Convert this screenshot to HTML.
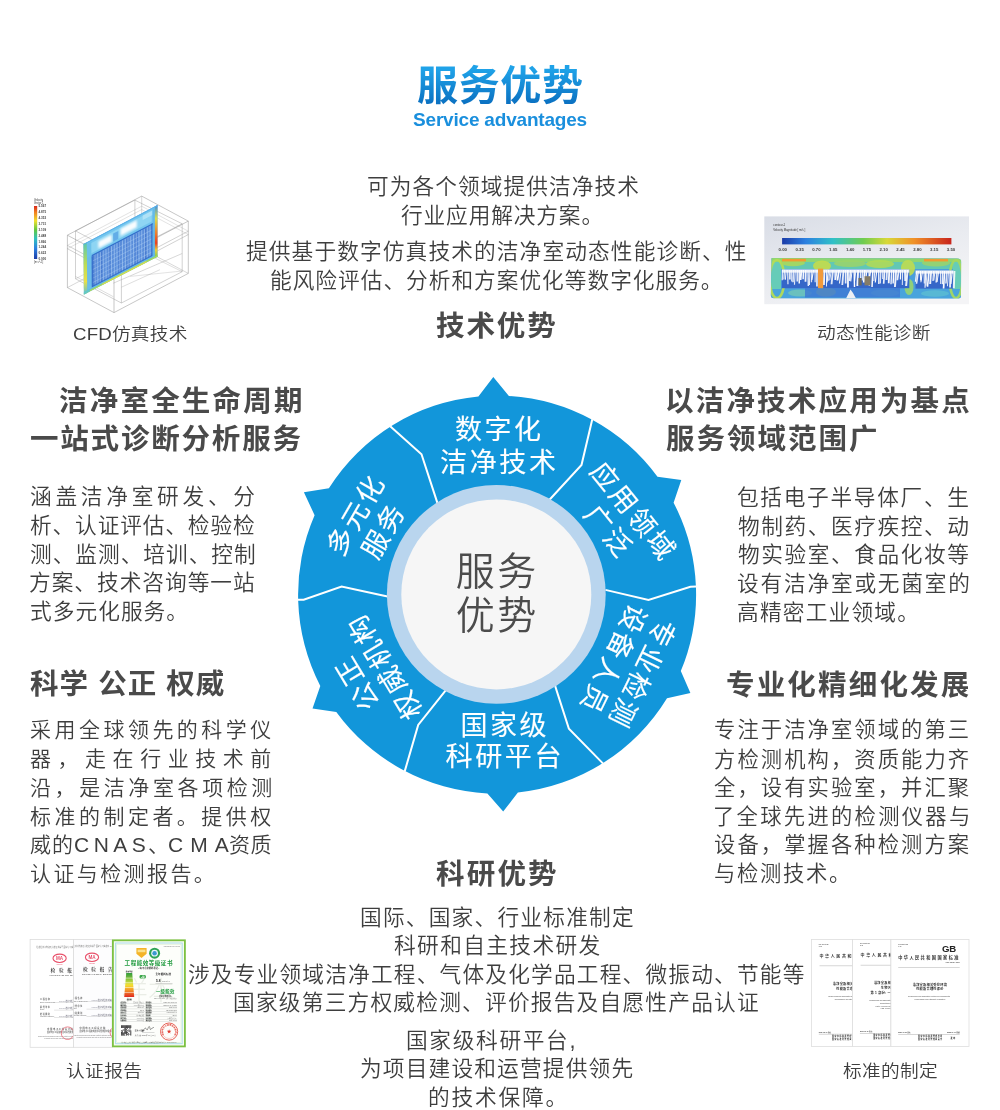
<!DOCTYPE html>
<html lang="zh-CN">
<head>
<meta charset="utf-8">
<title>服务优势 Service advantages</title>
<style>
html,body{margin:0;padding:0;background:#fff;overflow:hidden;}
body{width:1000px;height:1110px;position:relative;overflow:hidden;font-family:"Liberation Sans","Noto Sans CJK SC",sans-serif;color:#3e3e3e;}
.l{position:absolute;white-space:nowrap;margin:0;will-change:transform;}
.b{font-size:21.7px;font-weight:350;line-height:30px;height:30px;}
.h{font-size:28.5px;font-weight:700;line-height:40px;height:40px;color:#4a4a4a;}
.cap{font-size:17px;font-weight:350;line-height:24px;height:24px;color:#3e3e3e;transform:scaleX(1.1);transform-origin:0 50%;}
.title{position:absolute;left:0;width:1000px;top:56px;height:60px;line-height:60px;text-align:center;font-size:41px;font-weight:700;letter-spacing:0.7px;text-indent:0.7px;
  background:linear-gradient(180deg,#1fa2e8 22%,#0a6fc0 82%);-webkit-background-clip:text;background-clip:text;color:transparent;-webkit-text-fill-color:transparent;}
.sub{position:absolute;left:0;width:1000px;top:108.3px;height:24px;line-height:24px;text-align:center;font-size:19px;font-weight:700;letter-spacing:-0.2px;color:#1a8fdd;}
.wheel,.imgs{position:absolute;left:0;top:0;will-change:transform;}
.title,.sub{will-change:transform;}
.wheel text{font-family:"Liberation Sans","Noto Sans CJK SC",sans-serif;}
</style>
</head>
<body>
<svg class="imgs" width="1000" height="1110" viewBox="0 0 1000 1110" font-family="'Liberation Sans','Noto Sans CJK SC',sans-serif">
<defs>
<linearGradient id="jetv" x1="0" y1="0" x2="0" y2="1">
 <stop offset="0" stop-color="#d8281c"/><stop offset="0.12" stop-color="#f08020"/><stop offset="0.28" stop-color="#f0e030"/>
 <stop offset="0.45" stop-color="#60c840"/><stop offset="0.62" stop-color="#30c0c0"/><stop offset="0.8" stop-color="#2c80e0"/><stop offset="1" stop-color="#1c3ca8"/>
</linearGradient>
<linearGradient id="jeth" x1="0" y1="0" x2="1" y2="0">
 <stop offset="0" stop-color="#1c3ca8"/><stop offset="0.14" stop-color="#2c80e0"/><stop offset="0.3" stop-color="#30c0c8"/>
 <stop offset="0.48" stop-color="#70cc50"/><stop offset="0.62" stop-color="#d8d838"/><stop offset="0.78" stop-color="#f09028"/><stop offset="1" stop-color="#c8241c"/>
</linearGradient>
<linearGradient id="bgflow" x1="0" y1="0" x2="0.6" y2="1">
 <stop offset="0" stop-color="#d9dde6"/><stop offset="0.55" stop-color="#e9ebf0"/><stop offset="1" stop-color="#f4f4f6"/>
</linearGradient>
<linearGradient id="plane" x1="0" y1="0" x2="0" y2="1">
 <stop offset="0" stop-color="#8fd0ee"/><stop offset="0.3" stop-color="#79bfe8"/><stop offset="0.36" stop-color="#3d78cc"/><stop offset="1" stop-color="#4a7fd0"/>
</linearGradient>
<linearGradient id="rstrip" x1="0" y1="0" x2="0" y2="1">
 <stop offset="0" stop-color="#3c8ce0"/><stop offset="0.25" stop-color="#d8dc50"/><stop offset="0.55" stop-color="#f07828"/><stop offset="0.72" stop-color="#e84020"/><stop offset="0.85" stop-color="#e8d040"/><stop offset="1" stop-color="#70c858"/>
</linearGradient>
<linearGradient id="lstrip" x1="0" y1="0" x2="0" y2="1">
 <stop offset="0" stop-color="#58c8b0"/><stop offset="0.4" stop-color="#b8dc58"/><stop offset="0.75" stop-color="#e8e048"/><stop offset="1" stop-color="#58c0d8"/>
</linearGradient>
<linearGradient id="pyr" x1="0" y1="0" x2="0" y2="1">
 <stop offset="0" stop-color="#2e9a3c"/><stop offset="0.3" stop-color="#9ccc3c"/><stop offset="0.5" stop-color="#f4e030"/><stop offset="0.7" stop-color="#f49a28"/><stop offset="1" stop-color="#e02a20"/>
</linearGradient>
<linearGradient id="flowbg" x1="0" y1="0" x2="0" y2="1">
 <stop offset="0" stop-color="#7ccf8c"/><stop offset="0.2" stop-color="#58c4c8"/><stop offset="0.5" stop-color="#3f86d8"/><stop offset="0.8" stop-color="#3c8cd8"/><stop offset="1" stop-color="#58c0c0"/>
</linearGradient>
</defs>
<g id="cfd">
<text x="34" y="201.2" font-size="2.6" fill="#333">Velocity</text>
<text x="34" y="203.8" font-size="2.6" fill="#333">Vector 1</text>
<rect x="34" y="206" width="3.2" height="53" fill="url(#jetv)"/>
<text x="38.6" y="207.4" font-size="3" font-weight="700" fill="#444">5.567</text>
<text x="38.6" y="213.2" font-size="3" font-weight="700" fill="#444">4.875</text>
<text x="38.6" y="219.1" font-size="3" font-weight="700" fill="#444">4.353</text>
<text x="38.6" y="224.9" font-size="3" font-weight="700" fill="#444">3.731</text>
<text x="38.6" y="230.8" font-size="3" font-weight="700" fill="#444">3.109</text>
<text x="38.6" y="236.6" font-size="3" font-weight="700" fill="#444">2.488</text>
<text x="38.6" y="242.5" font-size="3" font-weight="700" fill="#444">1.866</text>
<text x="38.6" y="248.3" font-size="3" font-weight="700" fill="#444">1.244</text>
<text x="38.6" y="254.2" font-size="3" font-weight="700" fill="#444">0.622</text>
<text x="38.6" y="260.0" font-size="3" font-weight="700" fill="#444">0.000</text>
<text x="34" y="263" font-size="2.6" fill="#333">[m s^-1]</text>
<polyline points="67.4,235.2 141.7,196.1 188.3,221.1 114.0,260.2 67.4,235.2" fill="none" stroke="#8f8f8f" stroke-width="0.5" opacity="1"/>
<polyline points="67.4,287.6 114.0,312.6 188.3,273.4" fill="none" stroke="#8f8f8f" stroke-width="0.5" opacity="1"/>
<polyline points="67.4,287.6 141.7,248.5 188.3,273.4" fill="none" stroke="#8f8f8f" stroke-width="0.5" opacity="0.7"/>
<polyline points="67.4,235.2 67.4,287.6" fill="none" stroke="#8f8f8f" stroke-width="0.5" opacity="1"/>
<polyline points="141.7,196.1 141.7,248.5" fill="none" stroke="#8f8f8f" stroke-width="0.5" opacity="0.7"/>
<polyline points="188.3,221.1 188.3,273.4" fill="none" stroke="#8f8f8f" stroke-width="0.5" opacity="1"/>
<polyline points="114.0,260.2 114.0,312.6" fill="none" stroke="#8f8f8f" stroke-width="0.5" opacity="1"/>
<polyline points="75.5,230.9 134.9,200.1 182.2,223.8 121.4,255.1 75.5,230.9" fill="none" stroke="#8f8f8f" stroke-width="0.5" opacity="0.8"/>
<polyline points="75.5,278.8 121.4,303.0 182.2,271.7" fill="none" stroke="#8f8f8f" stroke-width="0.5" opacity="0.8"/>
<polyline points="75.5,278.8 134.9,248.1 182.2,271.7" fill="none" stroke="#8f8f8f" stroke-width="0.5" opacity="0.6"/>
<polyline points="75.5,230.9 75.5,278.8" fill="none" stroke="#8f8f8f" stroke-width="0.5" opacity="0.8"/>
<polyline points="134.9,200.1 134.9,248.1" fill="none" stroke="#8f8f8f" stroke-width="0.5" opacity="0.8"/>
<polyline points="182.2,223.8 182.2,271.7" fill="none" stroke="#8f8f8f" stroke-width="0.5" opacity="0.8"/>
<polyline points="121.4,255.1 121.4,303.0" fill="none" stroke="#8f8f8f" stroke-width="0.5" opacity="0.8"/>
<polyline points="67.4,245.4 114.0,270.3" fill="none" stroke="#8f8f8f" stroke-width="0.5" opacity="0.8"/>
<polyline points="114.0,270.3 188.3,231.2" fill="none" stroke="#8f8f8f" stroke-width="0.5" opacity="0.8"/>
<polyline points="67.4,245.4 141.7,206.2 188.3,231.2" fill="none" stroke="#8f8f8f" stroke-width="0.5" opacity="0.5"/>
<polyline points="67.4,248.7 114.0,273.7" fill="none" stroke="#8f8f8f" stroke-width="0.5" opacity="0.8"/>
<polyline points="114.0,273.7 188.3,234.6" fill="none" stroke="#8f8f8f" stroke-width="0.5" opacity="0.8"/>
<polyline points="67.4,248.7 141.7,209.6 188.3,234.6" fill="none" stroke="#8f8f8f" stroke-width="0.5" opacity="0.5"/>
<polyline points="113.3,283.2 182.2,253.5" fill="none" stroke="#8f8f8f" stroke-width="0.5" opacity="0.7"/>
<polyline points="121.4,287.2 159.9,269.7" fill="none" stroke="#8f8f8f" stroke-width="0.5" opacity="0.6"/>
<polyline points="75.5,276.4 113.3,296.7" fill="none" stroke="#8f8f8f" stroke-width="0.5" opacity="0.6"/>
<polyline points="130.2,276.4 182.2,271.0" fill="none" stroke="#8f8f8f" stroke-width="0.5" opacity="0.5"/>
<filter id="bl1" x="-30%" y="-30%" width="160%" height="160%"><feGaussianBlur stdDeviation="0.9"/></filter>
<filter id="bl2" x="-30%" y="-30%" width="160%" height="160%"><feGaussianBlur stdDeviation="0.45"/></filter>
<polygon points="83.5,244.1 157.5,205.1 157.5,256.7 83.9,294.6" fill="#66a6e4" opacity="1" />
<polygon points="85.0,243.4 156.0,205.9 156.0,221.9 85.1,259.0" fill="#74c6ee" opacity="1" />
<polygon points="90.9,243.3 151.6,211.3 151.6,221.6 91.0,253.4" fill="#9adcf6" opacity="0.7" filter="url(#bl2)"/>
<polygon points="98.3,241.4 111.6,234.4 111.7,241.5 98.4,248.5" fill="#ffffff" opacity="0.95" filter="url(#bl1)"/>
<polygon points="120.5,228.7 136.8,220.1 136.8,227.3 120.5,235.9" fill="#ffffff" opacity="0.95" filter="url(#bl1)"/>
<polygon points="113.1,233.6 118.3,230.9 118.3,239.1 113.1,241.8" fill="#3f8ede" opacity="0.55" filter="url(#bl2)"/>
<polygon points="142.7,215.5 152.3,210.4 152.3,215.1 142.7,220.1" fill="#c8ecfa" opacity="0.6" filter="url(#bl2)"/>
<polygon points="91.7,255.0 153.0,222.9 153.0,224.5 91.7,256.5" fill="#2f68c8" opacity="0.9" />
<polygon points="91.7,256.5 152.3,224.8 152.3,255.7 92.0,286.9" fill="#5a8edb" opacity="1" />
<polygon points="93.2,255.8 95.4,254.6 95.6,285.0 93.4,286.2" fill="#2f62c4" opacity="0.4" />
<polygon points="99.9,252.3 102.1,251.1 102.3,281.6 100.1,282.7" fill="#2f62c4" opacity="0.4" />
<polygon points="108.0,248.0 110.2,246.9 110.4,277.4 108.2,278.6" fill="#2f62c4" opacity="0.4" />
<polygon points="118.3,242.6 120.6,241.5 120.7,272.1 118.5,273.2" fill="#2f62c4" opacity="0.4" />
<polygon points="126.5,238.4 128.7,237.2 128.8,267.9 126.6,269.0" fill="#2f62c4" opacity="0.4" />
<polygon points="135.3,233.7 137.5,232.6 137.6,263.3 135.4,264.5" fill="#2f62c4" opacity="0.4" />
<polygon points="144.2,229.1 146.4,227.9 146.4,258.8 144.2,259.9" fill="#2f62c4" opacity="0.4" />
<polygon points="94.5,255.1 95.4,254.6 95.6,285.0 94.7,285.5" fill="#b4d4f6" opacity="0.6" />
<polygon points="97.3,253.7 98.1,253.2 98.3,283.6 97.5,284.1" fill="#b4d4f6" opacity="0.6" />
<polygon points="100.0,252.2 100.9,251.8 101.1,282.2 100.2,282.7" fill="#b4d4f6" opacity="0.6" />
<polygon points="102.8,250.8 103.6,250.3 103.8,280.8 102.9,281.2" fill="#b4d4f6" opacity="0.6" />
<polygon points="105.5,249.3 106.4,248.9 106.6,279.4 105.7,279.8" fill="#b4d4f6" opacity="0.6" />
<polygon points="108.3,247.9 109.2,247.4 109.3,278.0 108.4,278.4" fill="#b4d4f6" opacity="0.6" />
<polygon points="111.0,246.5 111.9,246.0 112.1,276.5 111.2,277.0" fill="#b4d4f6" opacity="0.6" />
<polygon points="113.8,245.0 114.7,244.6 114.8,275.1 113.9,275.6" fill="#b4d4f6" opacity="0.6" />
<polygon points="116.5,243.6 117.4,243.1 117.5,273.7 116.7,274.2" fill="#b4d4f6" opacity="0.6" />
<polygon points="119.3,242.1 120.2,241.7 120.3,272.3 119.4,272.7" fill="#b4d4f6" opacity="0.6" />
<polygon points="122.0,240.7 122.9,240.2 123.0,270.9 122.1,271.3" fill="#b4d4f6" opacity="0.6" />
<polygon points="124.8,239.3 125.7,238.8 125.8,269.5 124.9,269.9" fill="#b4d4f6" opacity="0.6" />
<polygon points="127.5,237.8 128.4,237.4 128.5,268.0 127.6,268.5" fill="#b4d4f6" opacity="0.6" />
<polygon points="130.3,236.4 131.2,235.9 131.3,266.6 130.4,267.1" fill="#b4d4f6" opacity="0.6" />
<polygon points="133.0,234.9 133.9,234.5 134.0,265.2 133.1,265.7" fill="#b4d4f6" opacity="0.6" />
<polygon points="135.8,233.5 136.7,233.0 136.7,263.8 135.9,264.2" fill="#b4d4f6" opacity="0.6" />
<polygon points="138.5,232.1 139.4,231.6 139.5,262.4 138.6,262.8" fill="#b4d4f6" opacity="0.6" />
<polygon points="141.3,230.6 142.2,230.1 142.2,261.0 141.3,261.4" fill="#b4d4f6" opacity="0.6" />
<polygon points="144.0,229.2 144.9,228.7 145.0,259.5 144.1,260.0" fill="#b4d4f6" opacity="0.6" />
<polygon points="146.8,227.7 147.7,227.3 147.7,258.1 146.8,258.6" fill="#b4d4f6" opacity="0.6" />
<polygon points="149.6,226.3 150.4,225.8 150.5,256.7 149.6,257.2" fill="#b4d4f6" opacity="0.6" />
<polygon points="91.8,260.9 152.3,229.3 152.3,230.2 91.8,261.8" fill="#b4d4f6" opacity="0.4" />
<polygon points="91.8,265.2 152.3,233.7 152.3,234.6 91.8,266.1" fill="#b4d4f6" opacity="0.4" />
<polygon points="91.8,269.6 152.3,238.1 152.3,239.0 91.8,270.5" fill="#b4d4f6" opacity="0.4" />
<polygon points="91.9,273.9 152.3,242.5 152.3,243.4 91.9,274.8" fill="#b4d4f6" opacity="0.4" />
<polygon points="91.9,278.2 152.3,246.9 152.3,247.8 91.9,279.1" fill="#b4d4f6" opacity="0.4" />
<polygon points="91.9,282.6 152.3,251.3 152.3,252.3 91.9,283.5" fill="#b4d4f6" opacity="0.4" />
<polygon points="92.0,285.9 152.3,254.7 152.3,256.3 92.0,287.4" fill="#2f68c8" opacity="0.8" />
<polygon points="91.4,256.7 92.9,256.0 93.1,286.3 91.6,287.1" fill="#2f68c8" opacity="0.8" />
<polygon points="151.2,223.9 152.7,223.1 152.7,255.6 151.2,256.3" fill="#2f68c8" opacity="0.7" />
<polygon points="86.8,243.9 91.3,241.6 91.6,289.1 87.2,291.4" fill="#6cc0ea" opacity="0.9" />
<polygon points="152.7,209.2 154.9,208.0 154.9,256.5 152.7,257.6" fill="#62b8e8" opacity="0.9" />
<polygon points="86.1,290.5 155.3,254.7 155.3,256.0 86.1,291.7" fill="#62c0e4" opacity="0.9" />
<polygon points="83.5,244.1 86.8,242.4 87.2,292.9 83.9,294.6" fill="url(#lstrip)" opacity="1" />
<polygon points="154.9,206.5 157.5,205.1 157.5,256.7 154.9,258.0" fill="url(#rstrip)" opacity="1" />
<polygon points="83.9,292.9 157.5,254.9 157.5,256.7 83.9,294.6" fill="#a4dc5c" opacity="1" />
<polygon points="102.3,283.5 146.4,260.7 146.4,262.4 102.3,285.1" fill="#dce050" opacity="0.8" />
<polygon points="83.9,292.1 89.8,289.1 89.8,291.6 83.9,294.6" fill="#58c4d8" opacity="0.8" />
<polygon points="83.5,244.1 157.5,205.1 157.5,206.2 83.5,245.1" fill="#58b0e8" opacity="0.9" />
</g>
<g id="flow">
<rect x="764.3" y="216.4" width="204.7" height="87.8" fill="url(#bgflow)"/>
<text x="773.3" y="226" font-size="2.8" fill="#333">contour-1</text>
<text x="773.3" y="230.6" font-size="2.8" fill="#333">Velocity Magnitude [ m/s ]</text>
<rect x="782.1" y="238" width="169.3" height="6.4" fill="url(#jeth)"/>
<text x="782.8" y="250.8" font-size="4.3" font-weight="700" fill="#3a3a3a" text-anchor="middle">0.00</text>
<text x="799.6" y="250.8" font-size="4.3" font-weight="700" fill="#3a3a3a" text-anchor="middle">0.35</text>
<text x="816.4" y="250.8" font-size="4.3" font-weight="700" fill="#3a3a3a" text-anchor="middle">0.70</text>
<text x="833.3" y="250.8" font-size="4.3" font-weight="700" fill="#3a3a3a" text-anchor="middle">1.05</text>
<text x="850.1" y="250.8" font-size="4.3" font-weight="700" fill="#3a3a3a" text-anchor="middle">1.40</text>
<text x="866.9" y="250.8" font-size="4.3" font-weight="700" fill="#3a3a3a" text-anchor="middle">1.75</text>
<text x="883.7" y="250.8" font-size="4.3" font-weight="700" fill="#3a3a3a" text-anchor="middle">2.10</text>
<text x="900.5" y="250.8" font-size="4.3" font-weight="700" fill="#3a3a3a" text-anchor="middle">2.45</text>
<text x="917.4" y="250.8" font-size="4.3" font-weight="700" fill="#3a3a3a" text-anchor="middle">2.80</text>
<text x="934.2" y="250.8" font-size="4.3" font-weight="700" fill="#3a3a3a" text-anchor="middle">3.15</text>
<text x="951.0" y="250.8" font-size="4.3" font-weight="700" fill="#3a3a3a" text-anchor="middle">3.50</text>
<filter id="bl3" x="-5%" y="-10%" width="110%" height="120%"><feGaussianBlur stdDeviation="0.55"/></filter>
<filter id="bl4" x="-20%" y="-20%" width="140%" height="140%"><feGaussianBlur stdDeviation="1.6"/></filter>
<clipPath id="fclip"><path d="M771.5,259.5 Q770.5,258 773,258 L957,258.4 Q961.5,258.4 961.2,262 L961,296 Q961,298.6 958,298.4 L774,298.2 Q770.8,298.2 770.8,295 Z"/></clipPath>
<g clip-path="url(#fclip)">
<rect x="770.8" y="258.0" width="190.4" height="40.4" fill="#4a9edc"/>
<g filter="url(#bl3)">
<rect x="770" y="257" width="192" height="12" fill="#62c8b4"/>
<rect x="770" y="257" width="192" height="5" fill="#8ed672"/>
<rect x="770" y="262" width="11" height="38" fill="#66ccb8"/>
<rect x="953" y="262" width="9" height="38" fill="#66ccb8"/>
<rect x="770" y="289" width="192" height="10" fill="#4aa4dc"/>
<ellipse cx="777.0" cy="279.0" rx="7.5" ry="19.0" fill="none" stroke="#b4dc54" stroke-width="2.6" opacity="0.95"/>
<ellipse cx="956.0" cy="279.0" rx="6.5" ry="19.0" fill="none" stroke="#a4d860" stroke-width="2.6" opacity="0.95"/>
<ellipse cx="793.0" cy="263.0" rx="12.0" ry="3.2" fill="#a8d85c" opacity="0.9"/>
<ellipse cx="822.0" cy="266.0" rx="9.0" ry="5.5" fill="#c4dc4c" opacity="0.9"/>
<ellipse cx="850.0" cy="263.5" rx="16.0" ry="3.5" fill="#9cd468" opacity="0.85"/>
<ellipse cx="880.0" cy="264.0" rx="14.0" ry="4.0" fill="#b4da54" opacity="0.85"/>
<ellipse cx="908.0" cy="268.0" rx="7.0" ry="8.0" fill="#c0dc50" opacity="0.9"/>
<ellipse cx="936.0" cy="263.0" rx="14.0" ry="3.4" fill="#9cd468" opacity="0.85"/>
<ellipse cx="909.0" cy="287.0" rx="4.5" ry="8.0" fill="#9cd868" opacity="0.85"/>
<ellipse cx="826.0" cy="292.0" rx="10.0" ry="4.5" fill="#c4dc50" opacity="0.8"/>
<ellipse cx="800.0" cy="293.0" rx="12.0" ry="3.5" fill="#78ccb0" opacity="0.7"/>
<ellipse cx="885.0" cy="293.0" rx="14.0" ry="3.5" fill="#70c8c0" opacity="0.75"/>
<ellipse cx="935.0" cy="293.5" rx="14.0" ry="3.2" fill="#60c0d0" opacity="0.7"/>
<rect x="782" y="258.8" width="24" height="2.6" fill="#f09a30"/>
<rect x="924" y="258.8" width="24" height="2.6" fill="#f09a30"/>
<rect x="781.8" y="269.6" width="127.5" height="18.6" fill="#3466c8"/>
<rect x="915.5" y="270.6" width="38" height="18" fill="#3466c8"/>
<rect x="805" y="288" width="95" height="9.5" fill="#3f7ad4" opacity="0.85"/>
</g>
<g filter="url(#bl2)">
<polygon points="782.0,270.0 783.3,270.0 782.9,280.3 781.6,280.3" fill="#ffffff" opacity="0.81"/>
<polygon points="783.9,270.0 785.2,270.0 784.5,279.5 783.2,279.5" fill="#ffffff" opacity="0.81"/>
<polygon points="785.7,270.0 786.7,270.0 785.9,279.8 784.9,279.8" fill="#ffffff" opacity="0.97"/>
<polygon points="787.1,270.0 788.2,270.0 788.5,284.3 787.4,284.3" fill="#ffffff" opacity="0.92"/>
<polygon points="788.8,270.0 790.7,270.0 790.8,279.4 788.9,279.4" fill="#ffffff" opacity="0.86"/>
<polygon points="791.1,270.0 792.2,270.0 792.2,281.6 791.1,281.6" fill="#ffffff" opacity="0.84"/>
<polygon points="792.8,270.0 794.4,270.0 793.8,282.2 792.2,282.2" fill="#ffffff" opacity="0.81"/>
<polygon points="794.8,270.0 795.9,270.0 795.0,284.8 793.9,284.8" fill="#ffffff" opacity="0.86"/>
<polygon points="796.5,270.0 797.9,270.0 797.9,281.5 796.5,281.5" fill="#ffffff" opacity="0.94"/>
<polygon points="798.4,270.0 799.9,270.0 800.0,283.5 798.5,283.5" fill="#ffffff" opacity="0.95"/>
<polygon points="800.4,270.0 802.4,270.0 801.5,280.0 799.5,280.0" fill="#ffffff" opacity="0.95"/>
<polygon points="802.7,270.0 804.2,270.0 803.9,279.3 802.4,279.3" fill="#ffffff" opacity="0.95"/>
<polygon points="804.8,270.0 806.7,270.0 806.4,281.7 804.6,281.7" fill="#ffffff" opacity="0.92"/>
<polygon points="807.3,270.0 808.7,270.0 809.0,286.1 807.6,286.1" fill="#ffffff" opacity="0.89"/>
<polygon points="809.4,270.0 810.4,270.0 810.0,285.0 809.1,285.0" fill="#ffffff" opacity="1.00"/>
<polygon points="811.2,270.0 812.4,270.0 812.1,282.3 810.9,282.3" fill="#ffffff" opacity="0.80"/>
<polygon points="813.0,270.0 814.1,270.0 812.4,280.0 811.3,280.0" fill="#ffffff" opacity="0.95"/>
<polygon points="814.5,270.0 815.6,270.0 815.7,282.3 814.6,282.3" fill="#ffffff" opacity="0.82"/>
<polygon points="816.2,270.0 817.7,270.0 817.7,286.5 816.2,286.5" fill="#ffffff" opacity="0.97"/>
<polygon points="818.2,270.0 819.5,270.0 819.7,282.0 818.3,282.0" fill="#ffffff" opacity="0.99"/>
<polygon points="819.9,270.0 821.0,270.0 819.7,281.0 818.6,281.0" fill="#ffffff" opacity="0.90"/>
<polygon points="821.7,270.0 822.9,270.0 822.0,279.0 820.8,279.0" fill="#ffffff" opacity="0.87"/>
<polygon points="823.5,270.0 825.4,270.0 824.8,284.9 822.8,284.9" fill="#ffffff" opacity="0.92"/>
<polygon points="826.1,270.0 827.1,270.0 827.0,286.6 826.1,286.6" fill="#ffffff" opacity="0.97"/>
<polygon points="827.9,270.0 829.2,270.0 827.6,282.4 826.3,282.4" fill="#ffffff" opacity="0.93"/>
<polygon points="829.6,270.0 830.5,270.0 829.1,280.8 828.1,280.8" fill="#ffffff" opacity="0.87"/>
<polygon points="830.9,270.0 831.8,270.0 830.2,280.3 829.3,280.3" fill="#ffffff" opacity="0.87"/>
<polygon points="832.1,270.0 833.9,270.0 832.5,284.2 830.6,284.2" fill="#ffffff" opacity="0.85"/>
<polygon points="834.4,270.0 835.7,270.0 835.8,280.0 834.5,280.0" fill="#ffffff" opacity="1.00"/>
<polygon points="836.3,270.0 837.8,270.0 836.2,279.7 834.7,279.7" fill="#ffffff" opacity="0.87"/>
<polygon points="838.2,270.0 840.0,270.0 838.3,280.4 836.5,280.4" fill="#ffffff" opacity="0.99"/>
<polygon points="840.6,270.0 841.7,270.0 840.0,283.6 838.9,283.6" fill="#ffffff" opacity="0.91"/>
<polygon points="842.6,270.0 844.4,270.0 843.2,284.9 841.4,284.9" fill="#ffffff" opacity="0.87"/>
<polygon points="844.8,270.0 846.6,270.0 846.5,283.5 844.8,283.5" fill="#ffffff" opacity="0.87"/>
<polygon points="847.0,270.0 848.8,270.0 848.9,287.4 847.1,287.4" fill="#ffffff" opacity="0.96"/>
<polygon points="849.6,270.0 851.3,270.0 850.7,280.9 848.9,280.9" fill="#ffffff" opacity="0.87"/>
<polygon points="851.6,270.0 852.6,270.0 851.3,281.4 850.4,281.4" fill="#ffffff" opacity="0.94"/>
<polygon points="853.4,270.0 854.8,270.0 855.2,287.0 853.8,287.0" fill="#ffffff" opacity="0.99"/>
<polygon points="855.4,270.0 856.5,270.0 855.1,280.9 854.0,280.9" fill="#ffffff" opacity="0.84"/>
<polygon points="857.2,270.0 859.1,270.0 858.3,286.1 856.4,286.1" fill="#ffffff" opacity="0.93"/>
<polygon points="859.8,270.0 860.8,270.0 861.0,284.6 860.0,284.6" fill="#ffffff" opacity="0.96"/>
<polygon points="861.6,270.0 863.0,270.0 862.9,280.5 861.5,280.5" fill="#ffffff" opacity="0.87"/>
<polygon points="863.8,270.0 865.8,270.0 864.8,282.4 862.9,282.4" fill="#ffffff" opacity="0.99"/>
<polygon points="866.5,270.0 867.6,270.0 866.1,280.1 865.0,280.1" fill="#ffffff" opacity="0.98"/>
<polygon points="868.4,270.0 869.4,270.0 869.8,286.0 868.7,286.0" fill="#ffffff" opacity="0.93"/>
<polygon points="869.9,270.0 871.4,270.0 869.7,280.1 868.2,280.1" fill="#ffffff" opacity="0.99"/>
<polygon points="872.1,270.0 873.6,270.0 872.8,286.9 871.3,286.9" fill="#ffffff" opacity="0.97"/>
<polygon points="874.4,270.0 875.5,270.0 874.4,281.1 873.3,281.1" fill="#ffffff" opacity="0.85"/>
<polygon points="876.2,270.0 877.4,270.0 875.9,282.6 874.7,282.6" fill="#ffffff" opacity="0.98"/>
<polygon points="877.9,270.0 879.3,270.0 879.5,284.0 878.1,284.0" fill="#ffffff" opacity="0.88"/>
<polygon points="880.1,270.0 881.6,270.0 880.9,283.5 879.5,283.5" fill="#ffffff" opacity="0.80"/>
<polygon points="882.2,270.0 883.3,270.0 883.2,279.0 882.1,279.0" fill="#ffffff" opacity="0.83"/>
<polygon points="883.8,270.0 885.5,270.0 884.5,283.7 882.8,283.7" fill="#ffffff" opacity="0.90"/>
<polygon points="886.2,270.0 887.9,270.0 887.4,279.9 885.6,279.9" fill="#ffffff" opacity="0.85"/>
<polygon points="888.4,270.0 890.2,270.0 889.6,283.3 887.8,283.3" fill="#ffffff" opacity="0.95"/>
<polygon points="891.0,270.0 892.4,270.0 891.7,284.2 890.3,284.2" fill="#ffffff" opacity="0.90"/>
<polygon points="893.1,270.0 894.5,270.0 893.8,283.5 892.4,283.5" fill="#ffffff" opacity="0.99"/>
<polygon points="895.2,270.0 897.1,270.0 895.9,287.0 894.0,287.0" fill="#ffffff" opacity="0.91"/>
<polygon points="898.0,270.0 899.8,270.0 898.2,280.2 896.4,280.2" fill="#ffffff" opacity="0.89"/>
<polygon points="900.1,270.0 901.3,270.0 901.0,279.6 899.8,279.6" fill="#ffffff" opacity="0.96"/>
<polygon points="902.1,270.0 903.2,270.0 902.8,285.1 901.8,285.1" fill="#ffffff" opacity="0.83"/>
<polygon points="904.0,270.0 906.0,270.0 906.3,280.9 904.3,280.9" fill="#ffffff" opacity="0.88"/>
<polygon points="906.6,270.0 908.6,270.0 907.1,286.1 905.1,286.1" fill="#ffffff" opacity="0.89"/>
<polygon points="916.0,271.0 917.3,271.0 916.2,281.7 914.9,281.7" fill="#ffffff" opacity="0.94"/>
<polygon points="917.6,271.0 919.1,271.0 917.3,283.7 915.8,283.7" fill="#ffffff" opacity="0.87"/>
<polygon points="919.8,271.0 921.2,271.0 921.6,280.5 920.1,280.5" fill="#ffffff" opacity="0.96"/>
<polygon points="922.1,271.0 923.1,271.0 921.4,282.3 920.4,282.3" fill="#ffffff" opacity="0.96"/>
<polygon points="923.6,271.0 924.6,271.0 924.8,283.6 923.8,283.6" fill="#ffffff" opacity="0.96"/>
<polygon points="925.1,271.0 926.2,271.0 925.6,287.8 924.5,287.8" fill="#ffffff" opacity="0.94"/>
<polygon points="926.5,271.0 927.5,271.0 926.6,285.8 925.6,285.8" fill="#ffffff" opacity="0.81"/>
<polygon points="928.3,271.0 929.9,271.0 928.3,286.8 926.7,286.8" fill="#ffffff" opacity="0.97"/>
<polygon points="930.3,271.0 932.1,271.0 931.1,283.9 929.2,283.9" fill="#ffffff" opacity="0.91"/>
<polygon points="933.0,271.0 934.2,271.0 933.5,281.1 932.3,281.1" fill="#ffffff" opacity="0.85"/>
<polygon points="934.5,271.0 935.6,271.0 934.3,280.4 933.2,280.4" fill="#ffffff" opacity="0.86"/>
<polygon points="936.1,271.0 937.8,271.0 937.1,282.5 935.4,282.5" fill="#ffffff" opacity="0.84"/>
<polygon points="938.3,271.0 939.3,271.0 937.5,282.1 936.6,282.1" fill="#ffffff" opacity="0.95"/>
<polygon points="939.9,271.0 941.0,271.0 941.3,284.0 940.1,284.0" fill="#ffffff" opacity="0.82"/>
<polygon points="941.8,271.0 943.2,271.0 943.2,284.2 941.8,284.2" fill="#ffffff" opacity="0.88"/>
<polygon points="943.8,271.0 945.4,271.0 944.4,288.4 942.7,288.4" fill="#ffffff" opacity="0.97"/>
<polygon points="946.2,271.0 947.8,271.0 946.7,283.4 945.1,283.4" fill="#ffffff" opacity="0.81"/>
<polygon points="948.1,271.0 949.1,271.0 947.9,286.3 946.9,286.3" fill="#ffffff" opacity="0.83"/>
<polygon points="949.5,271.0 951.3,271.0 951.0,287.4 949.1,287.4" fill="#ffffff" opacity="0.86"/>
<polygon points="951.7,271.0 953.0,271.0 951.5,283.9 950.3,283.9" fill="#ffffff" opacity="0.89"/>
<polygon points="953.4,271.0 955.4,271.0 954.8,288.3 952.8,288.3" fill="#ffffff" opacity="0.85"/>
<rect x="781.8" y="269.4" width="127.5" height="3.2" fill="#ffffff" opacity="0.8"/>
<rect x="915.5" y="270.4" width="38" height="3.2" fill="#ffffff" opacity="0.8"/>
<rect x="818" y="268.6" width="5.2" height="19.6" fill="#f29a3a"/>
<rect x="858.5" y="278" width="3.2" height="7.4" fill="#6a6a60"/>
<rect x="864.5" y="276.2" width="6" height="9.2" fill="#857c66"/>
</g>
<polygon points="846,298.6 850.5,289.5 853,293 856,298.6" fill="#edf0f4"/>
</g>
</g>
<g id="certs">
<rect x="30.1" y="939.4" width="43.4" height="107.9" fill="#ffffff" stroke="#dcdcdc" stroke-width="0.8"/>
<clipPath id="c1"><rect x="30.1" y="939.4" width="43.4" height="107.9"/></clipPath>
<g clip-path="url(#c1)">
<text x="36.6" y="948.0" font-size="1.9" font-weight="400" fill="#777" text-anchor="start" letter-spacing="0" >检验检测机构资质认定证书编号 国家认可实验室 CNAS L0000</text>
<ellipse cx="59.6" cy="958.3" rx="6.6" ry="4.2" fill="none" stroke="#e8506a" stroke-width="1.1"/>
<text x="59.6" y="959.9" font-size="4.6" font-weight="700" fill="#e8506a" text-anchor="middle" letter-spacing="0" >MA</text>
<text x="59.6" y="965.3" font-size="1.8" font-weight="400" fill="#e8506a" text-anchor="middle" letter-spacing="0" >180021</text>
<text x="50.6" y="971.6" font-size="4.6" font-weight="700" fill="#333" text-anchor="start" letter-spacing="1.3" font-family="'Liberation Serif','Noto Serif CJK SC',serif">检 验 报 告</text>
<text x="49.6" y="976.4" font-size="2.7" font-weight="700" fill="#333" text-anchor="start" letter-spacing="0.3" font-family="'Liberation Serif',serif">INSPECTION REPORT</text>
<text x="40.1" y="1000.3" font-size="2.0" font-weight="700" fill="#666" text-anchor="start" letter-spacing="0" >工 程 名 称</text>
<text x="40.1" y="1002.5" font-size="1.6" font-weight="400" fill="#666" text-anchor="start" letter-spacing="0" >Name of Engineering</text>
<rect x="54.1" y="1002.5" width="40" height="0.3" fill="#aaa"/>
<text x="59.1" y="1001.9" font-size="1.9" font-weight="400" fill="#556" text-anchor="start" letter-spacing="0" >XXXXX洁净室检测工程项目</text>
<text x="40.1" y="1007.7" font-size="2.0" font-weight="700" fill="#666" text-anchor="start" letter-spacing="0" >委 托 单 位</text>
<text x="40.1" y="1009.9" font-size="1.6" font-weight="400" fill="#666" text-anchor="start" letter-spacing="0" >Client</text>
<rect x="54.1" y="1009.9" width="40" height="0.3" fill="#aaa"/>
<text x="59.1" y="1009.3" font-size="1.9" font-weight="400" fill="#556" text-anchor="start" letter-spacing="0" >XXXXX洁净室检测工程项目</text>
<text x="40.1" y="1015.1" font-size="2.0" font-weight="700" fill="#666" text-anchor="start" letter-spacing="0" >检 验 类 别</text>
<text x="40.1" y="1017.3" font-size="1.6" font-weight="400" fill="#666" text-anchor="start" letter-spacing="0" >Inspection Category</text>
<rect x="54.1" y="1017.3" width="40" height="0.3" fill="#aaa"/>
<text x="59.1" y="1016.7" font-size="1.9" font-weight="400" fill="#556" text-anchor="start" letter-spacing="0" >XXXXX洁净室检测工程项目</text>
<text x="47.1" y="1029.5" font-size="2.3" font-weight="700" fill="#666" text-anchor="start" letter-spacing="0" >中 国 电 子 工 程 设 计 院</text>
<text x="47.1" y="1033.2" font-size="1.9" font-weight="700" fill="#777" text-anchor="start" letter-spacing="0" >国家电子工程建筑及环境性能质量监督检验中心</text>
<text x="38.1" y="1036.8" font-size="1.5" font-weight="400" fill="#777" text-anchor="start" letter-spacing="0" >China Electronics Engineering Design Institute National Center</text>
<text x="44.1" y="1039.2" font-size="1.5" font-weight="400" fill="#777" text-anchor="start" letter-spacing="0" >of Quality Supervision and Test for Electronic Engineering</text>
</g>
<circle cx="67.6" cy="1033.2" r="6.3" fill="none" stroke="#e86a78" stroke-width="0.9" opacity="0.9"/>
<clipPath id="c1b"><rect x="30.1" y="939.4" width="43.4" height="107.9"/></clipPath>
<rect x="73.5" y="939.4" width="38.6" height="107.9" fill="#fdfdfe" stroke="#dcdcdc" stroke-width="0.8"/>
<clipPath id="c2o"><rect x="73.9" y="939.8" width="37.8" height="107.1"/></clipPath>
<g clip-path="url(#c2o)"><g transform="translate(32.4,-1.0)">
<clipPath id="c2"><rect x="30.1" y="939.4" width="60.0" height="107.9"/></clipPath>
<g clip-path="url(#c2)">
<text x="36.6" y="948.0" font-size="1.9" font-weight="400" fill="#777" text-anchor="start" letter-spacing="0" >检验检测机构资质认定证书编号 国家认可实验室 CNAS L0000</text>
<ellipse cx="59.6" cy="958.3" rx="6.6" ry="4.2" fill="none" stroke="#e8506a" stroke-width="1.1"/>
<text x="59.6" y="959.9" font-size="4.6" font-weight="700" fill="#e8506a" text-anchor="middle" letter-spacing="0" >MA</text>
<text x="59.6" y="965.3" font-size="1.8" font-weight="400" fill="#e8506a" text-anchor="middle" letter-spacing="0" >180021</text>
<text x="50.6" y="971.6" font-size="4.6" font-weight="700" fill="#333" text-anchor="start" letter-spacing="1.3" font-family="'Liberation Serif','Noto Serif CJK SC',serif">检 验 报 告</text>
<text x="49.6" y="976.4" font-size="2.7" font-weight="700" fill="#333" text-anchor="start" letter-spacing="0.3" font-family="'Liberation Serif',serif">INSPECTION REPORT</text>
<text x="40.1" y="1000.3" font-size="2.0" font-weight="700" fill="#666" text-anchor="start" letter-spacing="0" >工 程 名 称</text>
<text x="40.1" y="1002.5" font-size="1.6" font-weight="400" fill="#666" text-anchor="start" letter-spacing="0" >Name of Engineering</text>
<rect x="54.1" y="1002.5" width="40" height="0.3" fill="#aaa"/>
<text x="59.1" y="1001.9" font-size="1.9" font-weight="400" fill="#556" text-anchor="start" letter-spacing="0" >XXXXX洁净室检测工程项目</text>
<text x="40.1" y="1007.7" font-size="2.0" font-weight="700" fill="#666" text-anchor="start" letter-spacing="0" >委 托 单 位</text>
<text x="40.1" y="1009.9" font-size="1.6" font-weight="400" fill="#666" text-anchor="start" letter-spacing="0" >Client</text>
<rect x="54.1" y="1009.9" width="40" height="0.3" fill="#aaa"/>
<text x="59.1" y="1009.3" font-size="1.9" font-weight="400" fill="#556" text-anchor="start" letter-spacing="0" >XXXXX洁净室检测工程项目</text>
<text x="40.1" y="1015.1" font-size="2.0" font-weight="700" fill="#666" text-anchor="start" letter-spacing="0" >检 验 类 别</text>
<text x="40.1" y="1017.3" font-size="1.6" font-weight="400" fill="#666" text-anchor="start" letter-spacing="0" >Inspection Category</text>
<rect x="54.1" y="1017.3" width="40" height="0.3" fill="#aaa"/>
<text x="59.1" y="1016.7" font-size="1.9" font-weight="400" fill="#556" text-anchor="start" letter-spacing="0" >XXXXX洁净室检测工程项目</text>
<text x="47.1" y="1029.5" font-size="2.3" font-weight="700" fill="#666" text-anchor="start" letter-spacing="0" >中 国 电 子 工 程 设 计 院</text>
<text x="47.1" y="1033.2" font-size="1.9" font-weight="700" fill="#777" text-anchor="start" letter-spacing="0" >国家电子工程建筑及环境性能质量监督检验中心</text>
<text x="38.1" y="1036.8" font-size="1.5" font-weight="400" fill="#777" text-anchor="start" letter-spacing="0" >China Electronics Engineering Design Institute National Center</text>
<text x="44.1" y="1039.2" font-size="1.5" font-weight="400" fill="#777" text-anchor="start" letter-spacing="0" >of Quality Supervision and Test for Electronic Engineering</text>
</g>
<circle cx="84" cy="1033.6" r="6.3" fill="none" stroke="#e86a78" stroke-width="0.9" opacity="0.9"/>
</g></g>
<rect x="112.0" y="939.4" width="73.8" height="107.9" fill="#f6faf2"/>
<rect x="112.9" y="940.3" width="72.0" height="106.1" fill="none" stroke="#7cc142" stroke-width="1.8"/>
<rect x="115.6" y="943.0" width="66.6" height="100.7" fill="none" stroke="#a8dcea" stroke-width="0.9"/>
<rect x="116.8" y="944.2" width="64.2" height="98.3" fill="#fdfefb" stroke="#cfe8c0" stroke-width="0.4"/>
<text x="148.0" y="1000.0" font-size="26" font-weight="300" fill="#e4e8e0" text-anchor="middle" letter-spacing="0" opacity="0.75">样本</text>
<path d="M136.4,948 h10.2 v5.8 l-5.1,4.2 l-5.1,-4.2 z" fill="#f4b428"/>
<rect x="137.6" y="949.6" width="7.8" height="2.6" fill="#fbe08a"/>
<circle cx="154.6" cy="953.2" r="5.5" fill="#2ea456"/>
<circle cx="154.6" cy="953.2" r="3.4" fill="#e8f6fa"/>
<circle cx="154.6" cy="953.2" r="2.2" fill="#3a98d0"/>
<text x="172.0" y="947.3" font-size="1.5" font-weight="400" fill="#777" text-anchor="middle" letter-spacing="0" >NO.EL2023-0001-00000</text>
<text x="148.8" y="965.3" font-size="5.6" font-weight="700" fill="#1f9a3e" text-anchor="middle" letter-spacing="0.45" >工程能效等级证书</text>
<text x="148.8" y="968.9" font-size="2.3" font-weight="700" fill="#444" text-anchor="middle" letter-spacing="0" >( 每平方米能耗表达 )</text>
<text x="129.2" y="972.3" font-size="1.7" font-weight="700" fill="#333" text-anchor="middle" letter-spacing="0" >能效等级</text>
<polygon points="126.2,973 132.2,973 134.2,997 124.2,997" fill="url(#pyr)"/>
<rect x="124" y="977.8" width="10.4" height="0.5" fill="#fdfefb"/>
<rect x="124" y="982.6" width="10.4" height="0.5" fill="#fdfefb"/>
<rect x="124" y="987.4" width="10.4" height="0.5" fill="#fdfefb"/>
<rect x="124" y="992.2" width="10.4" height="0.5" fill="#fdfefb"/>
<text x="129.2" y="999.6" font-size="1.7" font-weight="700" fill="#333" text-anchor="middle" letter-spacing="0" >能耗高</text>
<rect x="139.6" y="975" width="6.2" height="3.4" rx="1.2" fill="#3aa648"/>
<text x="142.7" y="977.8" font-size="2.4" font-weight="700" fill="#ffffff" text-anchor="middle" letter-spacing="0" >1级</text>
<text x="155.5" y="975.4" font-size="2.6" font-weight="700" fill="#333" text-anchor="start" letter-spacing="0" >全年能耗标准</text>
<text x="156.0" y="982.2" font-size="3.2" font-weight="700" fill="#222" text-anchor="start" letter-spacing="0" >5.8</text>
<text x="162.0" y="982.0" font-size="1.6" font-weight="400" fill="#666" text-anchor="start" letter-spacing="0" >kWh/(m²·a)</text>
<rect x="155.5" y="983.4" width="17" height="0.35" fill="#999"/>
<text x="165.3" y="993.3" font-size="4.4" font-weight="700" fill="#1f9a3e" text-anchor="middle" letter-spacing="0.3" >一级能效</text>
<text x="165.3" y="996.6" font-size="1.8" font-weight="700" fill="#444" text-anchor="middle" letter-spacing="0" >洁净室能效评价</text>
<text x="165.3" y="998.8" font-size="1.4" font-weight="400" fill="#777" text-anchor="middle" letter-spacing="0" >GB/T 00000-2020 洁净厂房能效等级</text>
<rect x="120.3" y="1001.6" width="5.4" height="1.9" fill="#c8cec8"/>
<rect x="145.6" y="1001.6" width="5.4" height="1.9" fill="#c8cec8"/>
<rect x="120.3" y="1003.7" width="56.8" height="0.3" fill="#b8bcb8"/>
<text x="120.5" y="1003.2" font-size="1.5" font-weight="700" fill="#444" text-anchor="start" letter-spacing="0" >项目名称</text>
<text x="143.8" y="1003.2" font-size="1.5" font-weight="400" fill="#666" text-anchor="end" letter-spacing="0" >某洁净厂房项目</text>
<text x="145.8" y="1003.2" font-size="1.5" font-weight="700" fill="#444" text-anchor="start" letter-spacing="0" >证书编号</text>
<text x="176.8" y="1003.2" font-size="1.5" font-weight="400" fill="#666" text-anchor="end" letter-spacing="0" >2023-001-00000-01</text>
<rect x="120.3" y="1004.1" width="5.4" height="1.9" fill="#c8cec8"/>
<rect x="145.6" y="1004.1" width="5.4" height="1.9" fill="#c8cec8"/>
<rect x="120.3" y="1006.2" width="56.8" height="0.3" fill="#b8bcb8"/>
<text x="120.5" y="1005.8" font-size="1.5" font-weight="700" fill="#444" text-anchor="start" letter-spacing="0" >建设单位</text>
<text x="143.8" y="1005.8" font-size="1.5" font-weight="400" fill="#666" text-anchor="end" letter-spacing="0" >XXXX有限公司</text>
<text x="145.8" y="1005.8" font-size="1.5" font-weight="700" fill="#444" text-anchor="start" letter-spacing="0" >有效期限</text>
<text x="176.8" y="1005.8" font-size="1.5" font-weight="400" fill="#666" text-anchor="end" letter-spacing="0" >2023-01-01 至 2026</text>
<rect x="120.3" y="1006.7" width="5.4" height="1.9" fill="#c8cec8"/>
<rect x="145.6" y="1006.7" width="5.4" height="1.9" fill="#c8cec8"/>
<rect x="120.3" y="1008.8" width="56.8" height="0.3" fill="#b8bcb8"/>
<text x="120.5" y="1008.3" font-size="1.5" font-weight="700" fill="#444" text-anchor="start" letter-spacing="0" >洁净面积</text>
<text x="143.8" y="1008.3" font-size="1.5" font-weight="400" fill="#666" text-anchor="end" letter-spacing="0" >12000 m²</text>
<text x="145.8" y="1008.3" font-size="1.5" font-weight="700" fill="#444" text-anchor="start" letter-spacing="0" >发证日期</text>
<text x="176.8" y="1008.3" font-size="1.5" font-weight="400" fill="#666" text-anchor="end" letter-spacing="0" >2023-01-01</text>
<rect x="120.3" y="1009.2" width="5.4" height="1.9" fill="#c8cec8"/>
<rect x="145.6" y="1009.2" width="5.4" height="1.9" fill="#c8cec8"/>
<rect x="120.3" y="1011.4" width="56.8" height="0.3" fill="#b8bcb8"/>
<text x="120.5" y="1010.9" font-size="1.5" font-weight="700" fill="#444" text-anchor="start" letter-spacing="0" >洁净等级</text>
<text x="143.8" y="1010.9" font-size="1.5" font-weight="400" fill="#666" text-anchor="end" letter-spacing="0" >ISO 5</text>
<text x="145.8" y="1010.9" font-size="1.5" font-weight="700" fill="#444" text-anchor="start" letter-spacing="0" >检测标准</text>
<text x="176.8" y="1010.9" font-size="1.5" font-weight="400" fill="#666" text-anchor="end" letter-spacing="0" >GB 50073-2013</text>
<rect x="120.3" y="1011.8" width="5.4" height="1.9" fill="#c8cec8"/>
<rect x="145.6" y="1011.8" width="5.4" height="1.9" fill="#c8cec8"/>
<rect x="120.3" y="1013.9" width="56.8" height="0.3" fill="#b8bcb8"/>
<text x="120.5" y="1013.4" font-size="1.5" font-weight="700" fill="#444" text-anchor="start" letter-spacing="0" >测评方式</text>
<text x="143.8" y="1013.4" font-size="1.5" font-weight="400" fill="#666" text-anchor="end" letter-spacing="0" >现场检测</text>
<text x="145.8" y="1013.4" font-size="1.5" font-weight="700" fill="#444" text-anchor="start" letter-spacing="0" >能耗指标</text>
<text x="176.8" y="1013.4" font-size="1.5" font-weight="400" fill="#666" text-anchor="end" letter-spacing="0" >5.8 kWh/(m²·a)</text>
<rect x="120.3" y="1014.4" width="5.4" height="1.9" fill="#c8cec8"/>
<rect x="145.6" y="1014.4" width="5.4" height="1.9" fill="#c8cec8"/>
<rect x="120.3" y="1016.5" width="56.8" height="0.3" fill="#b8bcb8"/>
<text x="120.5" y="1016.0" font-size="1.5" font-weight="700" fill="#444" text-anchor="start" letter-spacing="0" >设计单位</text>
<text x="143.8" y="1016.0" font-size="1.5" font-weight="400" fill="#666" text-anchor="end" letter-spacing="0" >中国电子院</text>
<text x="145.8" y="1016.0" font-size="1.5" font-weight="700" fill="#444" text-anchor="start" letter-spacing="0" >节能率</text>
<text x="176.8" y="1016.0" font-size="1.5" font-weight="400" fill="#666" text-anchor="end" letter-spacing="0" >32.5%</text>
<rect x="120.3" y="1016.9" width="5.4" height="1.9" fill="#c8cec8"/>
<rect x="145.6" y="1016.9" width="5.4" height="1.9" fill="#c8cec8"/>
<rect x="120.3" y="1019.0" width="56.8" height="0.3" fill="#b8bcb8"/>
<text x="120.5" y="1018.5" font-size="1.5" font-weight="700" fill="#444" text-anchor="start" letter-spacing="0" >施工单位</text>
<text x="143.8" y="1018.5" font-size="1.5" font-weight="400" fill="#666" text-anchor="end" letter-spacing="0" >XXXX公司</text>
<text x="145.8" y="1018.5" font-size="1.5" font-weight="700" fill="#444" text-anchor="start" letter-spacing="0" >评价机构</text>
<text x="176.8" y="1018.5" font-size="1.5" font-weight="400" fill="#666" text-anchor="end" letter-spacing="0" >国家质检中心</text>
<rect x="120.3" y="1019.5" width="5.4" height="1.9" fill="#c8cec8"/>
<rect x="145.6" y="1019.5" width="5.4" height="1.9" fill="#c8cec8"/>
<rect x="120.3" y="1021.6" width="56.8" height="0.3" fill="#b8bcb8"/>
<text x="120.5" y="1021.1" font-size="1.5" font-weight="700" fill="#444" text-anchor="start" letter-spacing="0" >运营单位</text>
<text x="143.8" y="1021.1" font-size="1.5" font-weight="400" fill="#666" text-anchor="end" letter-spacing="0" >XXXX公司</text>
<text x="145.8" y="1021.1" font-size="1.5" font-weight="700" fill="#444" text-anchor="start" letter-spacing="0" >复核日期</text>
<text x="176.8" y="1021.1" font-size="1.5" font-weight="400" fill="#666" text-anchor="end" letter-spacing="0" >2024-01-01</text>
<rect x="121.0" y="1025.3" width="10.2" height="10.2" fill="#ffffff"/>
<rect x="121.00" y="1025.30" width="0.9" height="0.9" fill="#2a2a2a"/>
<rect x="121.85" y="1025.30" width="0.9" height="0.9" fill="#2a2a2a"/>
<rect x="122.70" y="1025.30" width="0.9" height="0.9" fill="#2a2a2a"/>
<rect x="123.55" y="1025.30" width="0.9" height="0.9" fill="#2a2a2a"/>
<rect x="124.40" y="1025.30" width="0.9" height="0.9" fill="#2a2a2a"/>
<rect x="125.25" y="1025.30" width="0.9" height="0.9" fill="#2a2a2a"/>
<rect x="126.10" y="1025.30" width="0.9" height="0.9" fill="#2a2a2a"/>
<rect x="126.95" y="1025.30" width="0.9" height="0.9" fill="#2a2a2a"/>
<rect x="127.80" y="1025.30" width="0.9" height="0.9" fill="#2a2a2a"/>
<rect x="128.65" y="1025.30" width="0.9" height="0.9" fill="#2a2a2a"/>
<rect x="129.50" y="1025.30" width="0.9" height="0.9" fill="#2a2a2a"/>
<rect x="130.35" y="1025.30" width="0.9" height="0.9" fill="#2a2a2a"/>
<rect x="121.00" y="1026.15" width="0.9" height="0.9" fill="#2a2a2a"/>
<rect x="121.85" y="1026.15" width="0.9" height="0.9" fill="#2a2a2a"/>
<rect x="122.70" y="1026.15" width="0.9" height="0.9" fill="#2a2a2a"/>
<rect x="123.55" y="1026.15" width="0.9" height="0.9" fill="#2a2a2a"/>
<rect x="124.40" y="1026.15" width="0.9" height="0.9" fill="#2a2a2a"/>
<rect x="125.25" y="1026.15" width="0.9" height="0.9" fill="#2a2a2a"/>
<rect x="126.10" y="1026.15" width="0.9" height="0.9" fill="#2a2a2a"/>
<rect x="126.95" y="1026.15" width="0.9" height="0.9" fill="#2a2a2a"/>
<rect x="127.80" y="1026.15" width="0.9" height="0.9" fill="#2a2a2a"/>
<rect x="128.65" y="1026.15" width="0.9" height="0.9" fill="#2a2a2a"/>
<rect x="129.50" y="1026.15" width="0.9" height="0.9" fill="#2a2a2a"/>
<rect x="130.35" y="1026.15" width="0.9" height="0.9" fill="#2a2a2a"/>
<rect x="121.00" y="1027.00" width="0.9" height="0.9" fill="#2a2a2a"/>
<rect x="121.85" y="1027.00" width="0.9" height="0.9" fill="#2a2a2a"/>
<rect x="122.70" y="1027.00" width="0.9" height="0.9" fill="#2a2a2a"/>
<rect x="123.55" y="1027.00" width="0.9" height="0.9" fill="#2a2a2a"/>
<rect x="124.40" y="1027.00" width="0.9" height="0.9" fill="#2a2a2a"/>
<rect x="125.25" y="1027.00" width="0.9" height="0.9" fill="#2a2a2a"/>
<rect x="126.10" y="1027.00" width="0.9" height="0.9" fill="#2a2a2a"/>
<rect x="126.95" y="1027.00" width="0.9" height="0.9" fill="#2a2a2a"/>
<rect x="127.80" y="1027.00" width="0.9" height="0.9" fill="#2a2a2a"/>
<rect x="128.65" y="1027.00" width="0.9" height="0.9" fill="#2a2a2a"/>
<rect x="129.50" y="1027.00" width="0.9" height="0.9" fill="#2a2a2a"/>
<rect x="130.35" y="1027.00" width="0.9" height="0.9" fill="#2a2a2a"/>
<rect x="124.40" y="1027.85" width="0.9" height="0.9" fill="#2a2a2a"/>
<rect x="125.25" y="1027.85" width="0.9" height="0.9" fill="#2a2a2a"/>
<rect x="126.95" y="1027.85" width="0.9" height="0.9" fill="#2a2a2a"/>
<rect x="129.50" y="1027.85" width="0.9" height="0.9" fill="#2a2a2a"/>
<rect x="124.40" y="1028.70" width="0.9" height="0.9" fill="#2a2a2a"/>
<rect x="125.25" y="1028.70" width="0.9" height="0.9" fill="#2a2a2a"/>
<rect x="126.10" y="1028.70" width="0.9" height="0.9" fill="#2a2a2a"/>
<rect x="129.50" y="1028.70" width="0.9" height="0.9" fill="#2a2a2a"/>
<rect x="122.70" y="1029.55" width="0.9" height="0.9" fill="#2a2a2a"/>
<rect x="123.55" y="1029.55" width="0.9" height="0.9" fill="#2a2a2a"/>
<rect x="124.40" y="1029.55" width="0.9" height="0.9" fill="#2a2a2a"/>
<rect x="125.25" y="1029.55" width="0.9" height="0.9" fill="#2a2a2a"/>
<rect x="126.10" y="1029.55" width="0.9" height="0.9" fill="#2a2a2a"/>
<rect x="127.80" y="1029.55" width="0.9" height="0.9" fill="#2a2a2a"/>
<rect x="121.00" y="1030.40" width="0.9" height="0.9" fill="#2a2a2a"/>
<rect x="121.85" y="1030.40" width="0.9" height="0.9" fill="#2a2a2a"/>
<rect x="124.40" y="1030.40" width="0.9" height="0.9" fill="#2a2a2a"/>
<rect x="125.25" y="1030.40" width="0.9" height="0.9" fill="#2a2a2a"/>
<rect x="126.95" y="1030.40" width="0.9" height="0.9" fill="#2a2a2a"/>
<rect x="128.65" y="1030.40" width="0.9" height="0.9" fill="#2a2a2a"/>
<rect x="129.50" y="1030.40" width="0.9" height="0.9" fill="#2a2a2a"/>
<rect x="130.35" y="1030.40" width="0.9" height="0.9" fill="#2a2a2a"/>
<rect x="121.85" y="1031.25" width="0.9" height="0.9" fill="#2a2a2a"/>
<rect x="124.40" y="1031.25" width="0.9" height="0.9" fill="#2a2a2a"/>
<rect x="125.25" y="1031.25" width="0.9" height="0.9" fill="#2a2a2a"/>
<rect x="126.10" y="1031.25" width="0.9" height="0.9" fill="#2a2a2a"/>
<rect x="128.65" y="1031.25" width="0.9" height="0.9" fill="#2a2a2a"/>
<rect x="130.35" y="1031.25" width="0.9" height="0.9" fill="#2a2a2a"/>
<rect x="121.00" y="1032.10" width="0.9" height="0.9" fill="#2a2a2a"/>
<rect x="121.85" y="1032.10" width="0.9" height="0.9" fill="#2a2a2a"/>
<rect x="123.55" y="1032.10" width="0.9" height="0.9" fill="#2a2a2a"/>
<rect x="124.40" y="1032.10" width="0.9" height="0.9" fill="#2a2a2a"/>
<rect x="125.25" y="1032.10" width="0.9" height="0.9" fill="#2a2a2a"/>
<rect x="126.10" y="1032.10" width="0.9" height="0.9" fill="#2a2a2a"/>
<rect x="126.95" y="1032.10" width="0.9" height="0.9" fill="#2a2a2a"/>
<rect x="130.35" y="1032.10" width="0.9" height="0.9" fill="#2a2a2a"/>
<rect x="121.00" y="1032.95" width="0.9" height="0.9" fill="#2a2a2a"/>
<rect x="121.85" y="1032.95" width="0.9" height="0.9" fill="#2a2a2a"/>
<rect x="122.70" y="1032.95" width="0.9" height="0.9" fill="#2a2a2a"/>
<rect x="123.55" y="1032.95" width="0.9" height="0.9" fill="#2a2a2a"/>
<rect x="124.40" y="1032.95" width="0.9" height="0.9" fill="#2a2a2a"/>
<rect x="125.25" y="1032.95" width="0.9" height="0.9" fill="#2a2a2a"/>
<rect x="126.10" y="1032.95" width="0.9" height="0.9" fill="#2a2a2a"/>
<rect x="127.80" y="1032.95" width="0.9" height="0.9" fill="#2a2a2a"/>
<rect x="130.35" y="1032.95" width="0.9" height="0.9" fill="#2a2a2a"/>
<rect x="121.00" y="1033.80" width="0.9" height="0.9" fill="#2a2a2a"/>
<rect x="121.85" y="1033.80" width="0.9" height="0.9" fill="#2a2a2a"/>
<rect x="122.70" y="1033.80" width="0.9" height="0.9" fill="#2a2a2a"/>
<rect x="123.55" y="1033.80" width="0.9" height="0.9" fill="#2a2a2a"/>
<rect x="126.10" y="1033.80" width="0.9" height="0.9" fill="#2a2a2a"/>
<rect x="126.95" y="1033.80" width="0.9" height="0.9" fill="#2a2a2a"/>
<rect x="127.80" y="1033.80" width="0.9" height="0.9" fill="#2a2a2a"/>
<rect x="129.50" y="1033.80" width="0.9" height="0.9" fill="#2a2a2a"/>
<rect x="130.35" y="1033.80" width="0.9" height="0.9" fill="#2a2a2a"/>
<rect x="121.00" y="1034.65" width="0.9" height="0.9" fill="#2a2a2a"/>
<rect x="121.85" y="1034.65" width="0.9" height="0.9" fill="#2a2a2a"/>
<rect x="122.70" y="1034.65" width="0.9" height="0.9" fill="#2a2a2a"/>
<rect x="123.55" y="1034.65" width="0.9" height="0.9" fill="#2a2a2a"/>
<rect x="124.40" y="1034.65" width="0.9" height="0.9" fill="#2a2a2a"/>
<rect x="126.10" y="1034.65" width="0.9" height="0.9" fill="#2a2a2a"/>
<rect x="127.80" y="1034.65" width="0.9" height="0.9" fill="#2a2a2a"/>
<rect x="130.35" y="1034.65" width="0.9" height="0.9" fill="#2a2a2a"/>
<text x="134.8" y="1031.3" font-size="1.7" font-weight="700" fill="#444" text-anchor="start" letter-spacing="0" >签发人(签章):</text>
<path d="M142.5,1032 c2,-4 3,-5 4.2,-2.5 c0.8,2 1.6,-3.5 2.6,-3 c1,0.6 0.4,5 2,2.2 l2.6,-1.4" fill="none" stroke="#333" stroke-width="0.5"/>
<rect x="142" y="1032.6" width="12.5" height="0.3" fill="#888"/>
<text x="134.8" y="1036.2" font-size="1.6" font-weight="400" fill="#555" text-anchor="start" letter-spacing="0" >发证日期: 2023 年 01 月 01 日</text>
<circle cx="169.1" cy="1031.6" r="8.6" fill="none" stroke="#e0382c" stroke-width="0.9" opacity="0.85"/>
<circle cx="169.1" cy="1031.6" r="6.9" fill="none" stroke="#e0382c" stroke-width="0.3" opacity="0.8"/>
<text x="0" y="0" transform="translate(163.66 1034.14) rotate(-115.0)" font-size="2" font-weight="700" fill="#e0382c" opacity="0.9" text-anchor="middle">国</text>
<text x="0" y="0" transform="translate(163.12 1032.03) rotate(-94.1)" font-size="2" font-weight="700" fill="#e0382c" opacity="0.9" text-anchor="middle">家</text>
<text x="0" y="0" transform="translate(163.36 1029.86) rotate(-73.2)" font-size="2" font-weight="700" fill="#e0382c" opacity="0.9" text-anchor="middle">电</text>
<text x="0" y="0" transform="translate(164.35 1027.93) rotate(-52.3)" font-size="2" font-weight="700" fill="#e0382c" opacity="0.9" text-anchor="middle">子</text>
<text x="0" y="0" transform="translate(165.98 1026.48) rotate(-31.4)" font-size="2" font-weight="700" fill="#e0382c" opacity="0.9" text-anchor="middle">工</text>
<text x="0" y="0" transform="translate(168.01 1025.70) rotate(-10.5)" font-size="2" font-weight="700" fill="#e0382c" opacity="0.9" text-anchor="middle">程</text>
<text x="0" y="0" transform="translate(170.19 1025.70) rotate(10.5)" font-size="2" font-weight="700" fill="#e0382c" opacity="0.9" text-anchor="middle">质</text>
<text x="0" y="0" transform="translate(172.22 1026.48) rotate(31.4)" font-size="2" font-weight="700" fill="#e0382c" opacity="0.9" text-anchor="middle">量</text>
<text x="0" y="0" transform="translate(173.85 1027.93) rotate(52.3)" font-size="2" font-weight="700" fill="#e0382c" opacity="0.9" text-anchor="middle">监</text>
<text x="0" y="0" transform="translate(174.84 1029.86) rotate(73.2)" font-size="2" font-weight="700" fill="#e0382c" opacity="0.9" text-anchor="middle">督</text>
<text x="0" y="0" transform="translate(175.08 1032.03) rotate(94.1)" font-size="2" font-weight="700" fill="#e0382c" opacity="0.9" text-anchor="middle">检</text>
<text x="0" y="0" transform="translate(174.54 1034.14) rotate(115.0)" font-size="2" font-weight="700" fill="#e0382c" opacity="0.9" text-anchor="middle">验</text>
<polygon points="169.10,1029.20 169.66,1030.82 171.38,1030.86 170.01,1031.90 170.51,1033.54 169.10,1032.56 167.69,1033.54 168.19,1031.90 166.82,1030.86 168.54,1030.82" fill="#e0382c"/>
<text x="148.8" y="1042.6" font-size="1.5" font-weight="400" fill="#666" text-anchor="middle" letter-spacing="0" >中国电子工程设计院   国家电子工程建筑及环境性能质量监督检验中心   www.ceedi.cn</text>
</g>
<g id="stds">
<rect x="811.5" y="939.4" width="41.1" height="107.1" fill="#ffffff" stroke="#dedede" stroke-width="0.8"/>
<clipPath id="s1"><rect x="811.5" y="939.4" width="41.1" height="107.1"/></clipPath>
<g clip-path="url(#s1)" transform="translate(0,0)">
<text x="818.8" y="945.0" font-size="1.5" font-weight="700" fill="#555" text-anchor="start" letter-spacing="0" >ICS 13.040.35</text>
<text x="818.8" y="946.6" font-size="1.5" font-weight="700" fill="#555" text-anchor="start" letter-spacing="0" >C 70</text>
<text x="819.5" y="958.3" font-size="4.0" font-weight="700" fill="#333" text-anchor="start" letter-spacing="1.6" >中华人民共和国国家标准</text>
<rect x="819.5" y="965.7" width="61.5" height="0.4" fill="#9a9a9a"/>
<text x="850.0" y="985.3" font-size="3.2" font-weight="700" fill="#222" text-anchor="middle" letter-spacing="0.25" >洁净室及相关受控环境</text>
<text x="850.0" y="990.2" font-size="3.2" font-weight="700" fill="#222" text-anchor="middle" letter-spacing="0.25" >性能及合理性评价</text>
<text x="850.0" y="996.7" font-size="1.8" font-weight="400" fill="#444" text-anchor="middle" letter-spacing="0" >Cleanrooms and associated controlled environments—</text>
<text x="850.0" y="999.6" font-size="1.8" font-weight="400" fill="#444" text-anchor="middle" letter-spacing="0" >Performance and rationality evaluation</text>
<text x="818.8" y="1033.0" font-size="1.7" font-weight="700" fill="#444" text-anchor="start" letter-spacing="0" >2021-12-31 发布</text>
<rect x="818.8" y="1033.9" width="61.5" height="0.4" fill="#9a9a9a"/>
<text x="844.5" y="1037.0" font-size="1.9" font-weight="700" fill="#222" text-anchor="middle" letter-spacing="0.6" >国家市场监督管理总局</text>
<text x="844.5" y="1039.5" font-size="1.9" font-weight="700" fill="#222" text-anchor="middle" letter-spacing="0.6" >国家标准化管理委员会</text>
</g>
<rect x="852.6" y="939.4" width="38.3" height="107.1" fill="#ffffff" stroke="#dedede" stroke-width="0.8"/>
<clipPath id="s2"><rect x="852.6" y="939.4" width="38.3" height="107.1"/></clipPath>
<g clip-path="url(#s2)" transform="translate(0,-0.8)">
<text x="859.9" y="945.0" font-size="1.5" font-weight="700" fill="#555" text-anchor="start" letter-spacing="0" >ICS 13.040.35</text>
<text x="859.9" y="946.6" font-size="1.5" font-weight="700" fill="#555" text-anchor="start" letter-spacing="0" >C 70</text>
<text x="860.6" y="958.3" font-size="4.0" font-weight="700" fill="#333" text-anchor="start" letter-spacing="1.6" >中华人民共和国国家标准</text>
<rect x="860.6" y="965.7" width="61.5" height="0.4" fill="#9a9a9a"/>
<text x="891.1" y="985.3" font-size="3.2" font-weight="700" fill="#222" text-anchor="middle" letter-spacing="0.25" >洁净室及相关受控环境</text>
<text x="891.1" y="990.2" font-size="3.2" font-weight="700" fill="#222" text-anchor="middle" letter-spacing="0.25" >生物污染控制</text>
<text x="891.1" y="995.1" font-size="3.2" font-weight="700" fill="#222" text-anchor="middle" letter-spacing="0.25" >第 1 部分: 一般原理和方法</text>
<text x="891.1" y="1001.6" font-size="1.8" font-weight="400" fill="#444" text-anchor="middle" letter-spacing="0" >Cleanrooms and associated controlled environments—</text>
<text x="891.1" y="1004.5" font-size="1.8" font-weight="400" fill="#444" text-anchor="middle" letter-spacing="0" >Biocontamination control—</text>
<text x="891.1" y="1007.4" font-size="1.8" font-weight="400" fill="#444" text-anchor="middle" letter-spacing="0" >Part 1: General principles and methods</text>
<text x="891.1" y="1010.3" font-size="1.8" font-weight="400" fill="#444" text-anchor="middle" letter-spacing="0" >(ISO 14698-1:2003, MOD)</text>
<text x="859.9" y="1033.0" font-size="1.7" font-weight="700" fill="#444" text-anchor="start" letter-spacing="0" >2021-12-31 发布</text>
<rect x="859.9" y="1033.9" width="61.5" height="0.4" fill="#9a9a9a"/>
<text x="885.6" y="1037.0" font-size="1.9" font-weight="700" fill="#222" text-anchor="middle" letter-spacing="0.6" >国家市场监督管理总局</text>
<text x="885.6" y="1039.5" font-size="1.9" font-weight="700" fill="#222" text-anchor="middle" letter-spacing="0.6" >国家标准化管理委员会</text>
</g>
<rect x="890.9" y="939.4" width="78.1" height="107.1" fill="#ffffff" stroke="#dedede" stroke-width="0.8"/>
<clipPath id="s3"><rect x="890.9" y="939.4" width="78.1" height="107.1"/></clipPath>
<g clip-path="url(#s3)" transform="translate(0,0.3)">
<text x="898.2" y="945.0" font-size="1.5" font-weight="700" fill="#555" text-anchor="start" letter-spacing="0" >ICS 13.040.35</text>
<text x="898.2" y="946.6" font-size="1.5" font-weight="700" fill="#555" text-anchor="start" letter-spacing="0" >C 70</text>
<text x="948.9" y="952.2" font-size="9.6" font-weight="700" fill="#222" text-anchor="middle" letter-spacing="-0.3" >GB</text>
<text x="898.2" y="958.7" font-size="4.2" font-weight="700" fill="#333" text-anchor="start" letter-spacing="1.42" >中华人民共和国国家标准</text>
<text x="959.6" y="963.1" font-size="1.6" font-weight="700" fill="#555" text-anchor="end" letter-spacing="0" >GB/T 25915.1-2021</text>
<rect x="898.2" y="966.8" width="61.5" height="0.4" fill="#9a9a9a"/>
<text x="929.9" y="985.3" font-size="3.2" font-weight="700" fill="#222" text-anchor="middle" letter-spacing="0.25" >洁净室及相关受控环境</text>
<text x="929.9" y="990.2" font-size="3.2" font-weight="700" fill="#222" text-anchor="middle" letter-spacing="0.25" >性能及合理性评价</text>
<text x="929.9" y="996.7" font-size="1.8" font-weight="400" fill="#444" text-anchor="middle" letter-spacing="0" >Cleanrooms and associated controlled environments—</text>
<text x="929.9" y="999.6" font-size="1.8" font-weight="400" fill="#444" text-anchor="middle" letter-spacing="0" >Performance and rationality evaluation</text>
<text x="898.2" y="1033.0" font-size="1.7" font-weight="700" fill="#444" text-anchor="start" letter-spacing="0" >2021-12-31 发布</text>
<text x="959.6" y="1033.0" font-size="1.7" font-weight="700" fill="#444" text-anchor="end" letter-spacing="0" >2022-07-01 实施</text>
<rect x="898.2" y="1033.9" width="61.5" height="0.4" fill="#9a9a9a"/>
<text x="930.4" y="1037.0" font-size="1.9" font-weight="700" fill="#222" text-anchor="middle" letter-spacing="0.6" >国家市场监督管理总局</text>
<text x="930.4" y="1039.5" font-size="1.9" font-weight="700" fill="#222" text-anchor="middle" letter-spacing="0.6" >国家标准化管理委员会</text>
<text x="952.9" y="1038.4" font-size="2.0" font-weight="700" fill="#222" text-anchor="middle" letter-spacing="0" >发 布</text>
</g>
</g>
</svg>

<svg class="wheel" width="1000" height="1110" viewBox="0 0 1000 1110">
  <path d="M478.4,396.5 L493.3,377.0 L508.9,396.0 A199.0,199.0 0 0 1 657.5,476.8 L681.3,479.9 L673.6,502.7 A199.0,199.0 0 0 1 680.8,671.1 L690.4,693.1 L667.0,698.3 A199.0,199.0 0 0 1 517.9,792.5 L503.2,811.5 L487.4,793.4 A199.0,199.0 0 0 1 336.3,711.9 L312.5,708.6 L320.3,685.9 A199.0,199.0 0 0 1 314.6,515.2 L303.9,492.3 L328.9,488.3 A199.0,199.0 0 0 1 478.4,396.5 Z" fill="#1296da"/>
  <g fill="none" stroke="#ffffff" stroke-width="2" stroke-linejoin="miter">
    <polyline points="549.5,499.7 581.5,464.9 592.3,419.3 592.3,419.3"/> <polyline points="605.4,589.9 648.5,599.9 690.4,586.8 696.4,586.6"/> <polyline points="555.2,686.1 568.9,728.8 603.1,763.6 603.1,763.6"/> <polyline points="445.9,690.1 418.2,724.9 404.7,771.4 404.7,771.4"/> <polyline points="388.7,596.7 341.6,586.5 303.7,599.7 297.7,599.8"/> <polyline points="437.7,503.9 421.5,454.2 390.2,426.2 390.2,426.2"/>
  </g>
  <circle cx="496.3" cy="594.4" r="109.4" fill="#b9d5ee"/>
  <circle cx="496.3" cy="594.4" r="95.0" fill="#f6f6f6"/>
  <g class="wt" fill="#ffffff" stroke="#ffffff" stroke-width="0.12" font-size="27" font-weight="400" letter-spacing="1">
    <g transform="translate(498.0 445.6) rotate(0)"><text x="1.30" y="-6.3" text-anchor="middle" letter-spacing="2.6">数字化</text><text x="1.30" y="26.1" text-anchor="middle" letter-spacing="2.6">洁净技术</text></g>
    <g transform="translate(620.5 520.5) rotate(51)"><text x="1.30" y="-6.1" text-anchor="middle" letter-spacing="2.6">应用领域</text><text x="1.30" y="25.9" text-anchor="middle" letter-spacing="2.6">广泛</text></g>
    <g transform="translate(628.5 665.7) rotate(116)"><text x="1.30" y="-6.1" text-anchor="middle" letter-spacing="2.6">专业检测</text><text x="1.30" y="25.9" text-anchor="middle" letter-spacing="2.6">设备人员</text></g>
    <g transform="translate(503.5 740.5) rotate(0)"><text x="1.30" y="-5.6" text-anchor="middle" letter-spacing="2.6">国家级</text><text x="1.30" y="25.4" text-anchor="middle" letter-spacing="2.6">科研平台</text></g>
    <g transform="translate(371.0 676.0) rotate(238.8)"><text x="1.30" y="-6.1" text-anchor="middle" letter-spacing="2.6">公正</text><text x="1.30" y="25.9" text-anchor="middle" letter-spacing="2.6">权威机构</text></g>
    <g transform="translate(368.9 523.5) rotate(300)"><text x="1.30" y="-6.1" text-anchor="middle" letter-spacing="2.6">多元化</text><text x="1.30" y="25.9" text-anchor="middle" letter-spacing="2.6">服务</text></g>
  </g>
  <g class="ct" fill="#4c4c4c" font-size="39" font-weight="350" text-anchor="middle" letter-spacing="2.6">
    <text x="497.3" y="585.2">服务</text>
    <text x="497.3" y="628.6">优势</text>
  </g>
</svg>

<div class="title">服务优势</div>
<div class="sub">Service advantages</div>
<div class="l b" id="ln-t1" style="left:366.55px;top:172.25px;letter-spacing:1.063px;">可为各个领域提供洁净技术</div>
<div class="l b" id="ln-t2" style="left:401.00px;top:200.86px;letter-spacing:0.862px;">行业应用解决方案。</div>
<div class="l b" id="ln-t3" style="left:245.75px;top:237.00px;letter-spacing:1.114px;">提供基于数字仿真技术的洁净室动态性能诊断、性</div>
<div class="l b" id="ln-t4" style="left:269.75px;top:266.25px;letter-spacing:0.988px;">能风险评估、分析和方案优化等数字化服务。</div>
<div class="l h" id="ln-th" style="left:436.00px;top:305.50px;letter-spacing:1.901px;">技术优势</div>
<div class="l h" id="ln-bh" style="left:435.75px;top:853.66px;letter-spacing:2.200px;">科研优势</div>
<div class="l b" id="ln-b1" style="left:360.11px;top:902.66px;letter-spacing:1.218px;">国际、国家、行业标准制定</div>
<div class="l b" id="ln-b2" style="left:394.11px;top:931.33px;letter-spacing:1.375px;">科研和自主技术研发</div>
<div class="l b" id="ln-b3" style="left:188.00px;top:959.66px;letter-spacing:1.185px;">涉及专业领域洁净工程、气体及化学品工程、微振动、节能等</div>
<div class="l b" id="ln-b4" style="left:233.00px;top:987.50px;letter-spacing:1.219px;">国家级第三方权威检测、评价报告及自愿性产品认证</div>
<div class="l b" id="ln-b5" style="left:405.75px;top:1025.66px;letter-spacing:1.659px;">国家级科研平台,</div>
<div class="l b" id="ln-b6" style="left:360.16px;top:1053.75px;letter-spacing:1.166px;">为项目建设和运营提供领先</div>
<div class="l b" id="ln-b7" style="left:427.75px;top:1082.94px;letter-spacing:1.800px;">的技术保障。</div>
<div class="l h" id="ln-lh1" style="left:59.00px;top:380.86px;letter-spacing:2.214px;">洁净室全生命周期</div>
<div class="l h" id="ln-lh2" style="left:30.00px;top:418.61px;letter-spacing:1.812px;">一站式诊断分析服务</div>
<div class="l b" id="ln-l1" style="left:29.75px;top:482.11px;letter-spacing:3.725px;">涵盖洁净室研发、分</div>
<div class="l b" id="ln-l2" style="left:29.75px;top:510.50px;letter-spacing:0.864px;">析、认证评估、检验检</div>
<div class="l b" id="ln-l3" style="left:29.75px;top:540.33px;letter-spacing:0.975px;">测、监测、培训、控制</div>
<div class="l b" id="ln-l4" style="left:28.75px;top:568.05px;letter-spacing:0.975px;">方案、技术咨询等一站</div>
<div class="l b" id="ln-l5" style="left:29.75px;top:596.61px;letter-spacing:1.034px;">式多元化服务。</div>
<div class="l h" id="ln-lh3" style="left:30.00px;top:663.75px;letter-spacing:1.072px;">科学 公正 权威</div>
<div class="l b" id="ln-m1" style="left:29.75px;top:715.05px;letter-spacing:3.478px;font-size:21px;">采用全球领先的科学仪</div>
<div class="l b" id="ln-m2" style="left:29.75px;top:744.11px;letter-spacing:6.538px;font-size:21px;">器，走在行业技术前</div>
<div class="l b" id="ln-m3" style="left:29.75px;top:773.05px;letter-spacing:3.590px;font-size:21px;">沿，是洁净室各项检测</div>
<div class="l b" id="ln-m4" style="left:29.75px;top:801.58px;letter-spacing:3.478px;font-size:21px;">标准的制定者。提供权</div>
<div class="l b" id="ln-m5a" style="left:29.50px;top:829.61px;letter-spacing:1.000px;font-size:21px;">威的</div>
<div class="l b" id="ln-m5b" style="left:74.00px;top:830.00px;letter-spacing:4.466px;font-size:21px;">CNAS</div>
<div class="l b" id="ln-m5c" style="left:148.16px;top:830.47px;letter-spacing:-1.400px;font-size:21px;">、</div>
<div class="l b" id="ln-m5d" style="left:167.80px;top:830.00px;letter-spacing:7.100px;font-size:21px;">CMA</div>
<div class="l b" id="ln-m5e" style="left:229.38px;top:829.61px;letter-spacing:0.600px;font-size:21px;">资质</div>
<div class="l b" id="ln-m6" style="left:29.75px;top:858.61px;letter-spacing:2.401px;font-size:21px;">认证与检测报告。</div>
<div class="l h" id="ln-rh1" style="left:665.00px;top:381.25px;letter-spacing:2.202px;">以洁净技术应用为基点</div>
<div class="l h" id="ln-rh2" style="left:666.00px;top:419.05px;letter-spacing:1.999px;">服务领域范围广</div>
<div class="l b" id="ln-r1" style="left:737.11px;top:482.55px;letter-spacing:1.677px;">包括电子半导体厂、生</div>
<div class="l b" id="ln-r2" style="left:738.11px;top:511.50px;letter-spacing:1.566px;">物制药、医疗疾控、动</div>
<div class="l b" id="ln-r3" style="left:738.11px;top:540.30px;letter-spacing:1.566px;">物实验室、食品化妆等</div>
<div class="l b" id="ln-r4" style="left:737.11px;top:568.75px;letter-spacing:1.788px;">设有洁净室或无菌室的</div>
<div class="l b" id="ln-r5" style="left:737.11px;top:598.08px;letter-spacing:1.200px;">高精密工业领域。</div>
<div class="l h" id="ln-rh3" style="left:726.00px;top:664.86px;letter-spacing:2.183px;">专业化精细化发展</div>
<div class="l b" id="ln-s1" style="left:713.75px;top:715.19px;letter-spacing:2.080px;font-size:21.3px;">专注于洁净室领域的第三</div>
<div class="l b" id="ln-s2" style="left:713.75px;top:744.77px;letter-spacing:2.080px;font-size:21.3px;">方检测机构，资质能力齐</div>
<div class="l b" id="ln-s3" style="left:713.75px;top:772.86px;letter-spacing:2.080px;font-size:21.3px;">全，设有实验室，并汇聚</div>
<div class="l b" id="ln-s4" style="left:712.75px;top:801.50px;letter-spacing:2.300px;font-size:21.3px;">了全球先进的检测仪器与</div>
<div class="l b" id="ln-s5" style="left:713.75px;top:830.05px;letter-spacing:2.080px;font-size:21.3px;">设备，掌握各种检测方案</div>
<div class="l b" id="ln-s6" style="left:713.75px;top:858.50px;letter-spacing:1.680px;font-size:21.3px;">与检测技术。</div>
<div class="l cap" id="ln-c1" style="left:73.00px;top:322.83px;letter-spacing:0.166px;">CFD仿真技术</div>
<div class="l cap" id="ln-c2" style="left:817.11px;top:321.50px;letter-spacing:0.240px;">动态性能诊断</div>
<div class="l cap" id="ln-c3" style="left:66.00px;top:1059.86px;letter-spacing:0.333px;">认证报告</div>
<div class="l cap" id="ln-c4" style="left:843.00px;top:1060.05px;letter-spacing:0.250px;">标准的制定</div>
</body>
</html>
